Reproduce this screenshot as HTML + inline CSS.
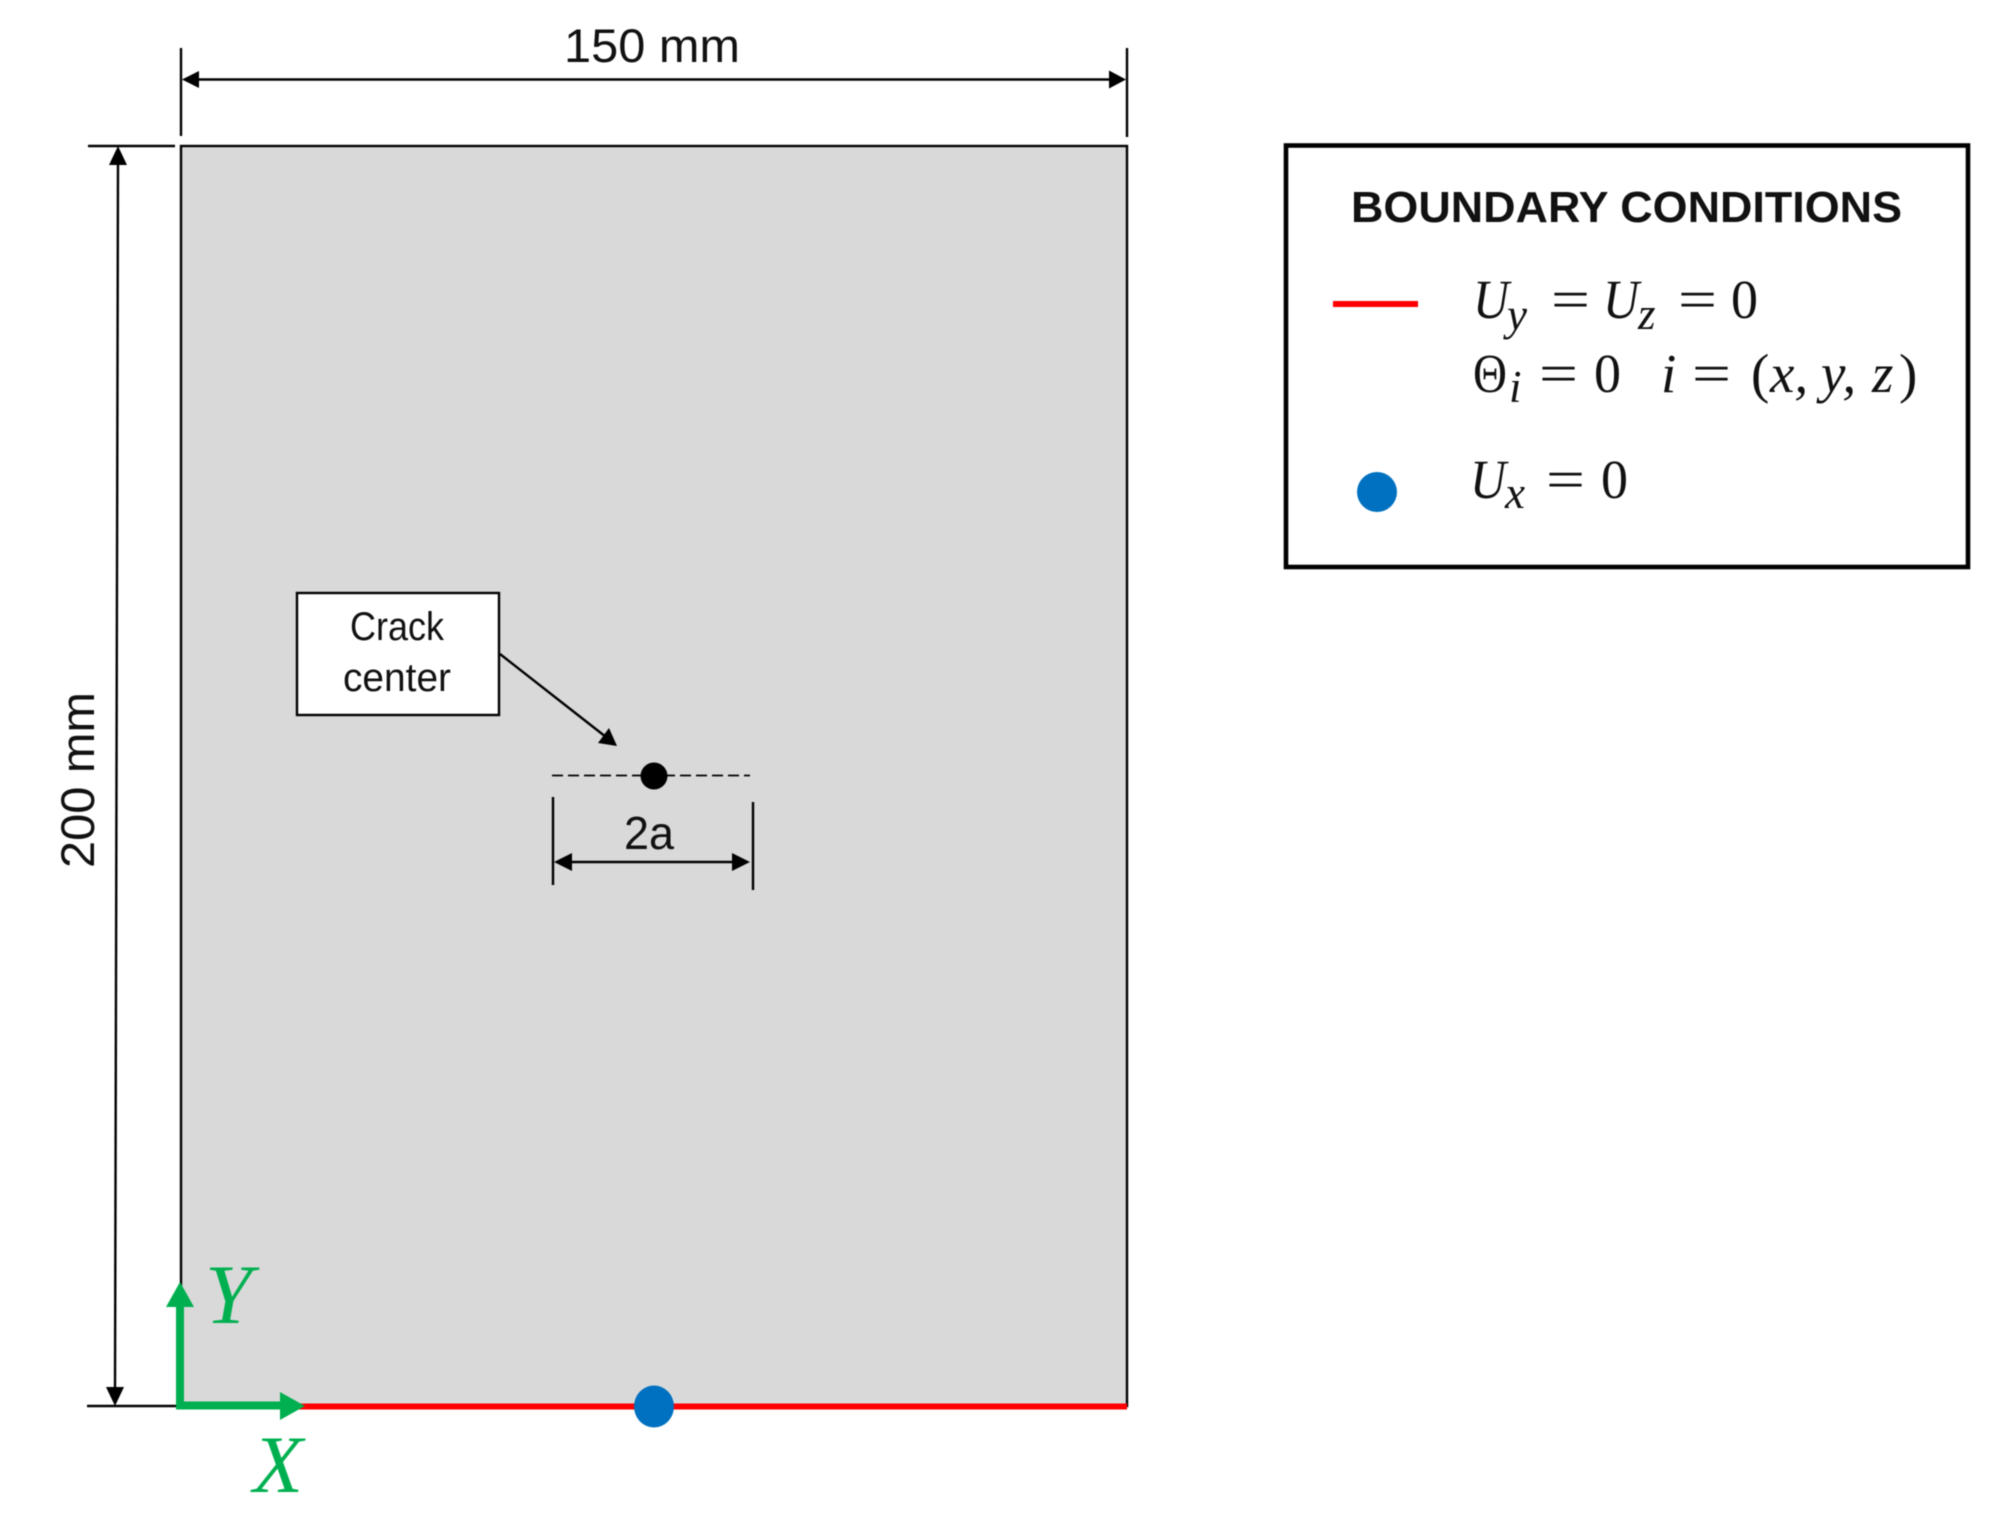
<!DOCTYPE html>
<html>
<head>
<meta charset="utf-8">
<style>
html,body{margin:0;padding:0;background:#fff;width:2006px;height:1531px;overflow:hidden}
svg{display:block;filter:blur(.5px)}
.s{font-family:"Liberation Sans",sans-serif;fill:#111}
.m{font-family:"Liberation Serif",serif;font-style:italic;font-size:55px;fill:#111}
.u{font-family:"Liberation Serif",serif;font-size:55px;fill:#111}
.b{font-size:45px;font-style:italic;font-family:"Liberation Serif",serif;fill:#111}
.g{font-family:"Liberation Serif",serif;font-style:italic;fill:#00B050}
</style>
</head>
<body>
<svg width="2006" height="1531" viewBox="0 0 2006 1531" xmlns="http://www.w3.org/2000/svg">
<rect width="2006" height="1531" fill="#fff"/>
<!-- plate -->
<rect x="181" y="146" width="946" height="1260" fill="#D9D9D9" stroke="#000" stroke-width="2.4"/>
<!-- extension lines -->
<g stroke="#000" stroke-width="2.4" fill="none">
<line x1="181" y1="48" x2="181" y2="136"/>
<line x1="1127" y1="48" x2="1127" y2="137"/>
<line x1="88" y1="146" x2="175" y2="146"/>
<line x1="87" y1="1406" x2="176" y2="1406"/>
<line x1="195" y1="79.5" x2="1112" y2="79.5"/>
<line x1="118" y1="160" x2="115" y2="1392"/>
</g>
<polygon points="182,79.5 199,71 199,88" fill="#000"/>
<polygon points="1126,79.5 1109,70.5 1109,88.5" fill="#000"/>
<polygon points="118,146 109,165 127,165" fill="#000"/>
<polygon points="115,1406 106,1387 124,1387" fill="#000"/>
<text class="s" x="564" y="62" font-size="47" textLength="176" lengthAdjust="spacingAndGlyphs">150 mm</text>
<text class="s" transform="translate(94 868) rotate(-90)" font-size="47" textLength="176" lengthAdjust="spacingAndGlyphs">200 mm</text>
<!-- crack callout -->
<rect x="297" y="593" width="202" height="122" fill="#fff" stroke="#000" stroke-width="2.4"/>
<text class="s" x="350" y="640" font-size="40" textLength="94" lengthAdjust="spacingAndGlyphs">Crack</text>
<text class="s" x="343" y="691" font-size="40" textLength="108" lengthAdjust="spacingAndGlyphs">center</text>
<line x1="500" y1="654" x2="606" y2="737" stroke="#000" stroke-width="2.4"/>
<polygon points="617,746 598,743 609,728" fill="#000"/>
<!-- crack -->
<line x1="552" y1="775.5" x2="750" y2="775.5" stroke="#000" stroke-width="1.8" stroke-dasharray="11 5"/>
<circle cx="654" cy="776" r="13.5" fill="#000"/>
<line x1="553" y1="797" x2="553" y2="885" stroke="#000" stroke-width="2.4"/>
<line x1="753" y1="802" x2="753" y2="890" stroke="#000" stroke-width="2.4"/>
<line x1="565" y1="862" x2="738" y2="862" stroke="#000" stroke-width="2.4"/>
<polygon points="554,862 572,853 572,871" fill="#000"/>
<polygon points="750,862 732,853 732,871" fill="#000"/>
<text class="s" x="624" y="849" font-size="46" textLength="50" lengthAdjust="spacingAndGlyphs">2a</text>
<!-- bottom BC -->
<line x1="290" y1="1406.5" x2="1127" y2="1406.5" stroke="#FF0000" stroke-width="6"/>
<ellipse cx="654" cy="1406.5" rx="20" ry="21" fill="#0070C0"/>
<!-- axes -->
<path d="M180 1305 V1405.5 H285" fill="none" stroke="#00B050" stroke-width="8"/>
<polygon points="180,1282 166,1307 194,1307" fill="#00B050"/>
<polygon points="305,1406 280,1392 280,1420" fill="#00B050"/>
<text class="g" x="205" y="1323" font-size="85" textLength="47" lengthAdjust="spacingAndGlyphs">Y</text>
<text class="g" x="253" y="1492" font-size="82" textLength="50" lengthAdjust="spacingAndGlyphs">X</text>
<!-- legend -->
<rect x="1286" y="145.5" width="682" height="421.5" fill="#fff" stroke="#000" stroke-width="4.6"/>
<text class="s" x="1351" y="222" font-size="44" font-weight="700" textLength="551" lengthAdjust="spacingAndGlyphs">BOUNDARY CONDITIONS</text>
<line x1="1333" y1="304" x2="1418" y2="304" stroke="#FF0000" stroke-width="6"/>
<circle cx="1377" cy="492" r="20" fill="#0070C0"/>

<text class="m" x="1473" y="318" textLength="36" lengthAdjust="spacingAndGlyphs">U</text>
<text class="b" x="1507" y="330">y</text>
<text class="u" x="1551" y="318" textLength="39" lengthAdjust="spacingAndGlyphs">=</text>
<text class="m" x="1603" y="318" textLength="36" lengthAdjust="spacingAndGlyphs">U</text>
<text class="b" x="1638" y="329">z</text>
<text class="u" x="1678" y="318" textLength="39" lengthAdjust="spacingAndGlyphs">=</text>
<text class="u" x="1731" y="318" textLength="27" lengthAdjust="spacingAndGlyphs">0</text>

<text class="u" x="1473" y="392" textLength="34" lengthAdjust="spacingAndGlyphs">Θ</text>
<text class="b" x="1509" y="402">i</text>
<text class="u" x="1539" y="392" textLength="39" lengthAdjust="spacingAndGlyphs">=</text>
<text class="u" x="1594" y="392" textLength="27" lengthAdjust="spacingAndGlyphs">0</text>
<text class="m" x="1661" y="392">i</text>
<text class="u" x="1692" y="392" textLength="39" lengthAdjust="spacingAndGlyphs">=</text>
<text class="u" x="1751" y="392">(</text>
<text class="m" x="1770" y="392">x,</text>
<text class="m" x="1821" y="392">y,</text>
<text class="m" x="1872" y="392">z</text>
<text class="u" x="1899" y="392">)</text>

<text class="m" x="1470" y="498" textLength="36" lengthAdjust="spacingAndGlyphs">U</text>
<text class="b" x="1505" y="508">x</text>
<text class="u" x="1546" y="498" textLength="39" lengthAdjust="spacingAndGlyphs">=</text>
<text class="u" x="1601" y="498" textLength="27" lengthAdjust="spacingAndGlyphs">0</text>
</svg>
</body>
</html>
